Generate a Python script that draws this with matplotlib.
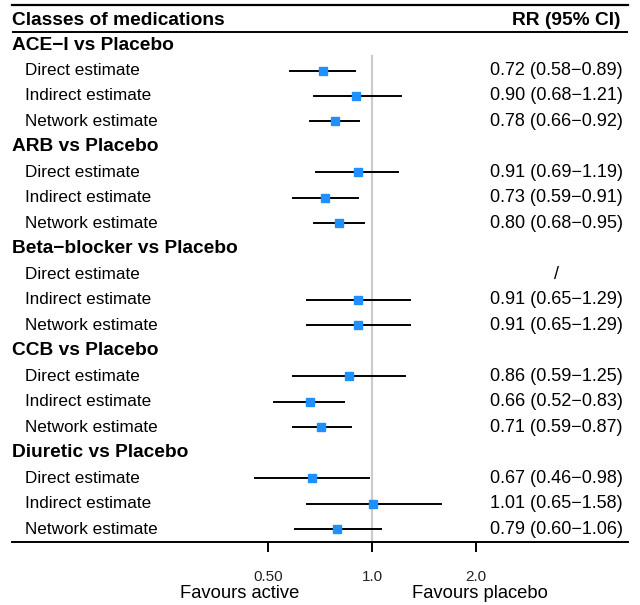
import numpy as np
import matplotlib
matplotlib.use("Agg")
import matplotlib.pyplot as plt
import matplotlib.transforms as mtransforms

plt.rcParams["font.family"] = ["Liberation Sans", "DejaVu Sans"]

comparisons = [
    "ACE\u2212I vs Placebo",
    "ARB vs Placebo",
    "Beta\u2212blocker vs Placebo",
    "CCB vs Placebo",
    "Diuretic vs Placebo",
]
estimate_types = ["Direct estimate", "Indirect estimate", "Network estimate"]

# RR and 95% CI per comparison, ordered direct / indirect / network (nan = not available)
rr = [
    [0.72, 0.90, 0.78],
    [0.91, 0.73, 0.80],
    [np.nan, 0.91, 0.91],
    [0.86, 0.66, 0.71],
    [0.67, 1.01, 0.79],
]
ci_low = [
    [0.58, 0.68, 0.66],
    [0.69, 0.59, 0.68],
    [np.nan, 0.65, 0.65],
    [0.59, 0.52, 0.59],
    [0.46, 0.65, 0.60],
]
ci_high = [
    [0.89, 1.21, 0.92],
    [1.19, 0.91, 0.95],
    [np.nan, 1.29, 1.29],
    [1.25, 0.83, 0.87],
    [0.98, 1.58, 1.06],
]

x_ticks = [0.5, 1.0, 2.0]
x_tick_labels = ["0.50", "1.0", "2.0"]

W, H = 640, 605
fig = plt.figure(figsize=(W / 100, H / 100), dpi=100)
ax_left, ax_right, ax_top, ax_bottom = 12, 628, 5, 542
ax = fig.add_axes([ax_left / W, 1 - ax_bottom / H,
                   (ax_right - ax_left) / W, (ax_bottom - ax_top) / H])

# log scale: 1.0 sits at x=372 px, one doubling spans 104 px
ax.set_xscale("log")
ax.set_xlim(2 ** ((ax_left - 372) / 104), 2 ** ((ax_right - 372) / 104))
ax.set_ylim(19.5, -1.57)

trans = mtransforms.blended_transform_factory(ax.transAxes, ax.transData)

ax.axvline(1.0, ymin=0, ymax=(19.5 - 0.45) / (19.5 + 1.57), color="#cccccc", lw=1.6, zorder=1)

bold_size = 13.8
label_size = 12.3
value_size = 13
value_x = (556.5 - ax_left) / (ax_right - ax_left)

row = 0
for g, name in enumerate(comparisons):
    ax.text(0.0, row, name, transform=trans, fontsize=bold_size, fontweight="bold",
            ha="left", va="center")
    row += 1
    for j, label in enumerate(estimate_types):
        ax.text(0.021, row, label, transform=trans, fontsize=label_size,
                ha="left", va="center")
        est, lo, hi = rr[g][j], ci_low[g][j], ci_high[g][j]
        if np.isnan(est):
            ax.text(value_x, row, "/", transform=trans, fontsize=value_size,
                    ha="center", va="center")
        else:
            ax.plot([lo, hi], [row, row], color="black", lw=1.4, zorder=2)
            ax.plot(est, row, marker="s", ms=6, color="#1E90FF", mec="#1E90FF", zorder=3)
            ax.text(value_x, row, f"{est:.2f} ({lo:.2f}\u2212{hi:.2f})", transform=trans,
                    fontsize=value_size, ha="center", va="center")
        row += 1

# header row
ax.text(0.0, -0.97, "Classes of medications", transform=trans, fontsize=bold_size,
        fontweight="bold", ha="left", va="center")
ax.text((621 - ax_left) / (ax_right - ax_left), -0.97, "RR (95% CI)", transform=trans,
        fontsize=bold_size, fontweight="bold", ha="right", va="center")
ax.axhline(-0.52, color="black", lw=1.4)

for side in ["left", "right"]:
    ax.spines[side].set_visible(False)
ax.spines["top"].set_linewidth(1.6)
ax.spines["bottom"].set_linewidth(1.4)
ax.set_yticks([])
ax.set_xticks(x_ticks)
ax.set_xticklabels(x_tick_labels)
ax.minorticks_off()
ax.tick_params(axis="x", direction="out", length=7, width=1.4, pad=13,
               labelsize=11, labelcolor="#222222")

fig.text(240 / W, 1 - 593 / H, "Favours active", fontsize=13.2, ha="center", va="center")
fig.text(480 / W, 1 - 593 / H, "Favours placebo", fontsize=13.2, ha="center", va="center")

fig.savefig("out.png", dpi=100)
